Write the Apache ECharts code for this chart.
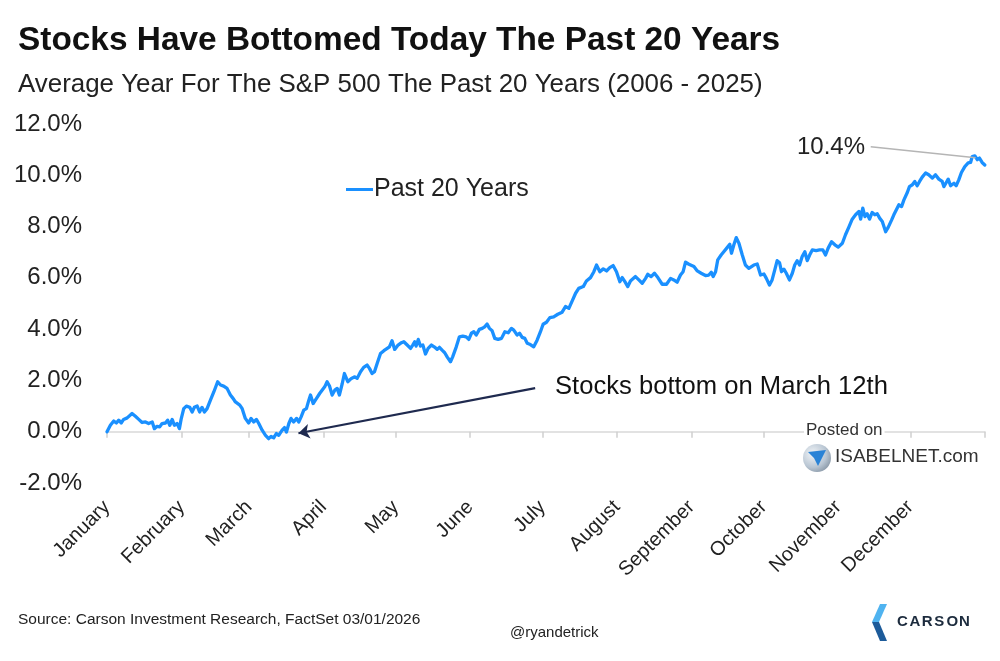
<!DOCTYPE html>
<html>
<head>
<meta charset="utf-8">
<script src="https://cdn.jsdelivr.net/npm/echarts@6/dist/echarts.min.js"></script>
<style>
  html, body { margin: 0; padding: 0; background: #ffffff; }
  #chart { width: 1000px; height: 661px; }
</style>
</head>
<body>
<div id="chart"></div>
<script>
// ---- Data ----
const monthNames = ['January','February','March','April','May','June','July','August','September','October','November','December'];
const monthStartDays = [0, 31, 59, 90, 120, 151, 181, 212, 243, 273, 304, 334];
const yearEndDay = 365;
const yTicks = { min: -2, max: 12, step: 2 };

// Day of year (0 = Jan 1) for each plotted point
const tradingDay = [
  0.0, 1.4, 2.8, 3.9, 4.9, 5.9, 6.9, 8.4, 10.4, 11.8, 13.2, 14.6, 16.0, 17.3, 18.8, 19.7, 20.8, 21.9, 22.9, 24.3,
  25.2, 26.1, 27.1, 28.0, 29.1, 30.1, 30.8, 31.9, 33.0, 34.4, 35.4, 36.3, 37.5, 38.5, 39.5, 40.5, 41.6, 43.0, 44.4, 46.0,
  47.2, 48.5, 49.9, 51.3, 52.4, 53.4, 54.1, 55.2, 56.2, 57.5, 58.9, 59.9, 61.0, 62.1, 63.1, 64.5, 65.9, 67.2, 68.2, 69.3,
  70.4, 71.4, 72.8, 73.8, 74.6, 75.6, 76.5, 77.6, 78.8, 79.7, 80.7, 81.8, 82.9, 83.9, 84.6, 85.7, 87.1, 88.4,
  89.1, 90.5, 91.5, 92.5, 93.6, 94.7, 95.7, 96.6, 97.8, 98.7, 100.1, 101.6, 103.0, 104.0, 105.4, 106.7, 108.1, 109.1, 110.2, 111.2,
  112.3, 113.7, 115.1, 116.5, 117.4, 118.5, 119.6, 121.0, 122.4, 123.4, 124.8, 126.2, 127.1, 127.9, 128.5, 129.4, 130.3, 131.3, 132.4, 133.5,
  134.9, 136.0, 137.3, 138.2, 139.3, 140.4, 141.4, 142.8, 143.7, 145.2, 146.5, 147.9, 149.3, 150.4, 151.5, 152.5, 153.5, 154.8, 156.0, 157.0,
  158.0, 159.0, 160.1, 161.2, 162.6, 164.0, 165.4, 166.8, 168.1, 169.1, 170.5, 171.5, 172.6, 173.7, 174.7, 176.0, 177.4,
  178.8, 180.2, 181.3, 182.7, 184.1, 185.7, 187.4, 189.2, 190.6, 192.0, 193.4, 194.8, 196.1, 198.0, 199.3, 201.0, 202.4, 203.5, 204.9, 206.3,
  207.7, 209.0, 210.4, 211.8, 213.2, 214.2, 215.3, 216.5, 217.6, 219.7, 221.1, 222.5, 223.9, 224.8, 226.2, 227.6, 229.0, 230.8, 232.6, 234.3,
  235.6, 237.0, 238.4, 239.5, 240.5, 241.9, 244.0, 245.4, 247.0, 248.8, 250.2, 251.2, 252.0, 253.0, 253.9, 255.3, 256.4, 257.8, 258.9, 259.6,
  260.6, 261.6, 262.7, 264.1, 265.4, 266.8,
  268.9, 270.3, 271.7, 273.1, 274.1, 275.4, 276.5, 277.6, 278.6, 279.6, 280.4, 281.4, 282.4, 283.7, 284.9, 285.9, 286.9, 287.9, 289.0, 290.1,
  291.1, 292.1, 293.2, 294.8, 296.2, 297.6, 298.7, 299.8, 301.2, 302.6, 304.0, 305.7, 307.0, 308.4, 309.8, 311.2, 312.6, 313.3, 314.2, 315.1,
  316.0, 317.0, 318.1, 319.2, 320.2, 321.2, 322.3, 323.7, 324.8, 326.2, 327.1, 328.1, 329.2, 330.3, 331.3, 332.7, 333.6, 334.8, 335.8, 336.8,
  337.8, 338.9, 340.3, 341.6, 343.1, 344.4, 345.8, 347.2, 347.9, 348.9, 349.7, 350.7, 352.1, 353.0, 354.1, 355.2, 356.6, 358.0, 359.0, 359.7,
  360.8, 361.8, 362.7, 363.8, 364.9
];

// Average cumulative return (%) at each point
const avgReturn = [
  0.00, 0.25, 0.42, 0.34, 0.45, 0.34, 0.48, 0.54, 0.71, 0.60, 0.48, 0.36, 0.38, 0.32, 0.38, 0.12, 0.21, 0.19, 0.32, 0.34,
  0.45, 0.25, 0.48, 0.25, 0.32, 0.12, 0.48, 0.90, 1.00, 0.95, 0.77, 0.95, 1.00, 0.77, 0.95, 0.77, 0.90, 1.23, 1.55, 1.95,
  1.82, 1.78, 1.69, 1.43, 1.30, 1.16, 1.23, 1.04, 0.90, 0.52, 0.34, 0.52, 0.38, 0.48, 0.32, 0.06, -0.14, -0.27, -0.18, -0.24,
  -0.07, -0.14, 0.06, 0.16, -0.01, 0.32, 0.52, 0.38, 0.52, 0.38, 0.58, 0.84, 0.90, 1.23, 1.43, 1.10, 1.30, 1.49,
  1.43, 1.75, 1.95, 1.78, 1.43, 1.62, 1.69, 1.43, 1.88, 2.27, 1.95, 2.08, 2.14, 2.08, 2.34, 2.51, 2.60, 2.47, 2.27, 2.34,
  2.66, 3.05, 3.16, 3.25, 3.31, 3.55, 3.21, 3.38, 3.47, 3.51, 3.38, 3.25, 3.38, 3.51, 3.34, 3.60, 3.34, 3.38, 3.03, 3.25,
  3.38, 3.31, 3.21, 3.29, 3.18, 3.08, 2.92, 2.73, 2.92, 3.31, 3.70, 3.73, 3.70, 3.60, 3.84, 3.90, 3.77, 3.99, 4.03, 4.09,
  4.20, 4.03, 3.94, 3.64, 3.60, 3.64, 3.90, 3.86, 4.03, 3.96, 3.77, 3.84, 3.68, 3.64, 3.45, 3.40, 3.31,
  3.57, 3.90, 4.19, 4.27, 4.45, 4.48, 4.58, 4.66, 4.88, 4.81, 5.10, 5.40, 5.59, 5.66, 5.88, 6.01, 6.24, 6.50, 6.24, 6.35,
  6.27, 6.40, 6.48, 6.24, 5.85, 6.01, 5.85, 5.66, 5.88, 6.05, 5.92, 5.79, 5.98, 6.14, 6.05, 6.18, 6.01, 5.75, 5.75, 5.98,
  5.92, 5.83, 6.11, 6.24, 6.61, 6.53, 6.44, 6.27, 6.18, 6.09, 6.11, 6.22, 6.05, 6.24, 6.70, 6.89, 7.02, 7.18, 7.31, 6.96,
  7.29, 7.57, 7.35, 6.89, 6.50, 6.37,
  6.50, 6.54, 6.11, 6.15, 5.98, 5.72, 5.92, 6.31, 6.67, 6.59, 6.24, 6.34, 6.18, 5.92, 6.18, 6.50, 6.67, 6.50, 6.83, 7.02,
  6.67, 6.89, 7.09, 7.06, 7.09, 7.09, 6.89, 7.16, 7.41, 7.29, 7.20, 7.35, 7.68, 7.98, 8.29, 8.46, 8.59, 8.29, 8.72, 8.39,
  8.50, 8.29, 8.55, 8.46, 8.50, 8.33, 8.20, 7.80, 7.98, 8.26, 8.46, 8.65, 8.85, 8.78, 9.04, 9.33, 9.56, 9.63, 9.76, 9.59,
  9.76, 9.93, 10.09, 10.02, 9.89, 10.02, 9.85, 9.76, 9.56, 9.72, 9.85, 9.59, 9.69, 9.59, 9.82, 10.11, 10.34, 10.48, 10.50, 10.73,
  10.76, 10.61, 10.67, 10.50, 10.40
];

const seriesName = 'Past 20 Years';
const finalLabel = '10.4%';
const annotationText = 'Stocks bottom on March 12th';
// Annotation anchors in data units [day, %]
const arrowTail = [178, 1.70];
const arrowHead = [79.6, -0.06];
const leaderStart = [317.5, 11.11];
const leaderEnd = [361.1, 10.68];

// ---- Build ----
const FONT = "'Liberation Sans', Arial, Helvetica, sans-serif";
const dayCategories = [];
for (let d = 0; d <= yearEndDay; d++) dayCategories.push(String(d));
const monthStartSet = new Set(monthStartDays);
const lineData = tradingDay.map((d, i) => [d, avgReturn[i]]);

const chart = echarts.init(document.getElementById('chart'), null, { renderer: 'canvas' });

const carsonLetters = ['C', 'A', 'R', 'S', 'O', 'N'];
const carsonGraphics = carsonLetters.map((ch, i) => ({
  type: 'text', left: 897 + i * 12.4, top: 614,
  style: { text: ch, font: "bold 15px " + FONT, fill: '#1c2b3d' }
}));

const option = {
  animation: false,
  backgroundColor: '#ffffff',
  grid: { left: 107, right: 15, top: 124, bottom: 178, containLabel: false },
  legend: {
    data: [seriesName],
    left: 341, top: 172,
    icon: 'rect',
    itemWidth: 27, itemHeight: 3, itemGap: 10,
    textStyle: { fontFamily: FONT, fontSize: 25, color: '#222222', padding: [0, 0, 0, -4] }
  },
  xAxis: [
    {
      type: 'value', min: 0, max: yearEndDay, show: false,
      axisLine: { onZero: false }, splitLine: { show: false }
    },
    {
      type: 'category', data: dayCategories, boundaryGap: false, position: 'bottom',
      axisLine: { show: true, onZero: true, lineStyle: { color: '#d9d9d9', width: 1.5 } },
      axisTick: {
        show: true, length: 6,
        interval: (idx) => monthStartSet.has(idx) || idx === yearEndDay,
        lineStyle: { color: '#d0d0d0', width: 1.5 }
      },
      axisLabel: {
        show: true, rotate: 45, margin: 21,
        interval: (idx) => monthStartSet.has(idx),
        formatter: (val, idx) => {
          const m = monthStartDays.indexOf(Number(val));
          return m >= 0 ? monthNames[m] : '';
        },
        fontFamily: FONT, fontSize: 20, color: '#222222'
      },
      splitLine: { show: false }
    }
  ],
  yAxis: {
    type: 'value', min: yTicks.min, max: yTicks.max, interval: yTicks.step,
    axisLine: { show: false }, axisTick: { show: false }, splitLine: { show: false },
    axisLabel: {
      formatter: (v) => v.toFixed(1) + '%',
      fontFamily: FONT, fontSize: 24, color: '#222222', margin: 25
    }
  },
  series: [
    {
      name: seriesName, type: 'line', xAxisIndex: 0, yAxisIndex: 0,
      data: lineData, showSymbol: false, symbol: 'none',
      lineStyle: { color: '#1a90ff', width: 3.3, join: 'round', cap: 'round' },
      itemStyle: { color: '#1a90ff' },
      emphasis: { disabled: true },
      markLine: {
        silent: true, animation: false,
        label: { show: false },
        emphasis: { disabled: true },
        data: [
          [
            { coord: arrowTail, symbol: 'none', lineStyle: { color: '#1f2a4f', width: 2.2, type: 'solid' } },
            { coord: arrowHead, symbol: 'arrow', symbolSize: 11 }
          ],
          [
            { coord: leaderStart, symbol: 'none', lineStyle: { color: '#b5b5b5', width: 1.5, type: 'solid' } },
            { coord: leaderEnd, symbol: 'none' }
          ]
        ]
      }
    }
  ],
  graphic: [
    { type: 'text', left: 18, top: 24, style: { text: 'Stocks Have Bottomed Today The Past 20 Years', font: "bold 33.4px " + FONT, fill: '#111111' } },
    { type: 'text', left: 18, top: 72, style: { text: 'Average Year For The S&P 500 The Past 20 Years (2006 - 2025)', font: "25.9px " + FONT, fill: '#222222' } },
    { type: 'text', left: 797, top: 135, style: { text: finalLabel, font: "24px " + FONT, fill: '#222222' } },
    { type: 'text', left: 555, top: 374, style: { text: annotationText, font: "25.6px " + FONT, fill: '#111111' } },
    // watermark
    { type: 'text', left: 804, top: 421, z: 100, style: { text: 'Posted on', font: "17px " + FONT, fill: '#333333', backgroundColor: '#ffffff', padding: [1, 2, 1, 2] } },
    { type: 'circle', shape: { cx: 817, cy: 458, r: 14 }, style: { fill: new echarts.graphic.RadialGradient(0.35, 0.35, 0.8, [{ offset: 0, color: '#f2f5f8' }, { offset: 0.6, color: '#b9c6d3' }, { offset: 1, color: '#7d8c9c' }]) } },
    { type: 'polygon', shape: { points: [[808, 452], [826, 450], [818, 466], [814, 458]] }, style: { fill: '#2a83d6' } },
    { type: 'text', left: 835, top: 447, style: { text: 'ISABELNET.com', font: "19px " + FONT, fill: '#333333' } },
    // footer
    { type: 'text', left: 18, top: 612, style: { text: 'Source: Carson Investment Research, FactSet 03/01/2026', font: "15.5px " + FONT, fill: '#222222' } },
    { type: 'text', left: 510, top: 625, style: { text: '@ryandetrick', font: "15px " + FONT, fill: '#222222' } },
    // Carson logo
    { type: 'polygon', shape: { points: [[880, 604], [887, 604], [879, 622], [872, 622]] }, style: { fill: '#4fb3f0' } },
    { type: 'polygon', shape: { points: [[872, 622], [879, 622], [887, 641], [880, 641]] }, style: { fill: '#1d5b9a' } }
  ].concat(carsonGraphics)
};

chart.setOption(option);
</script>
</body>
</html>
